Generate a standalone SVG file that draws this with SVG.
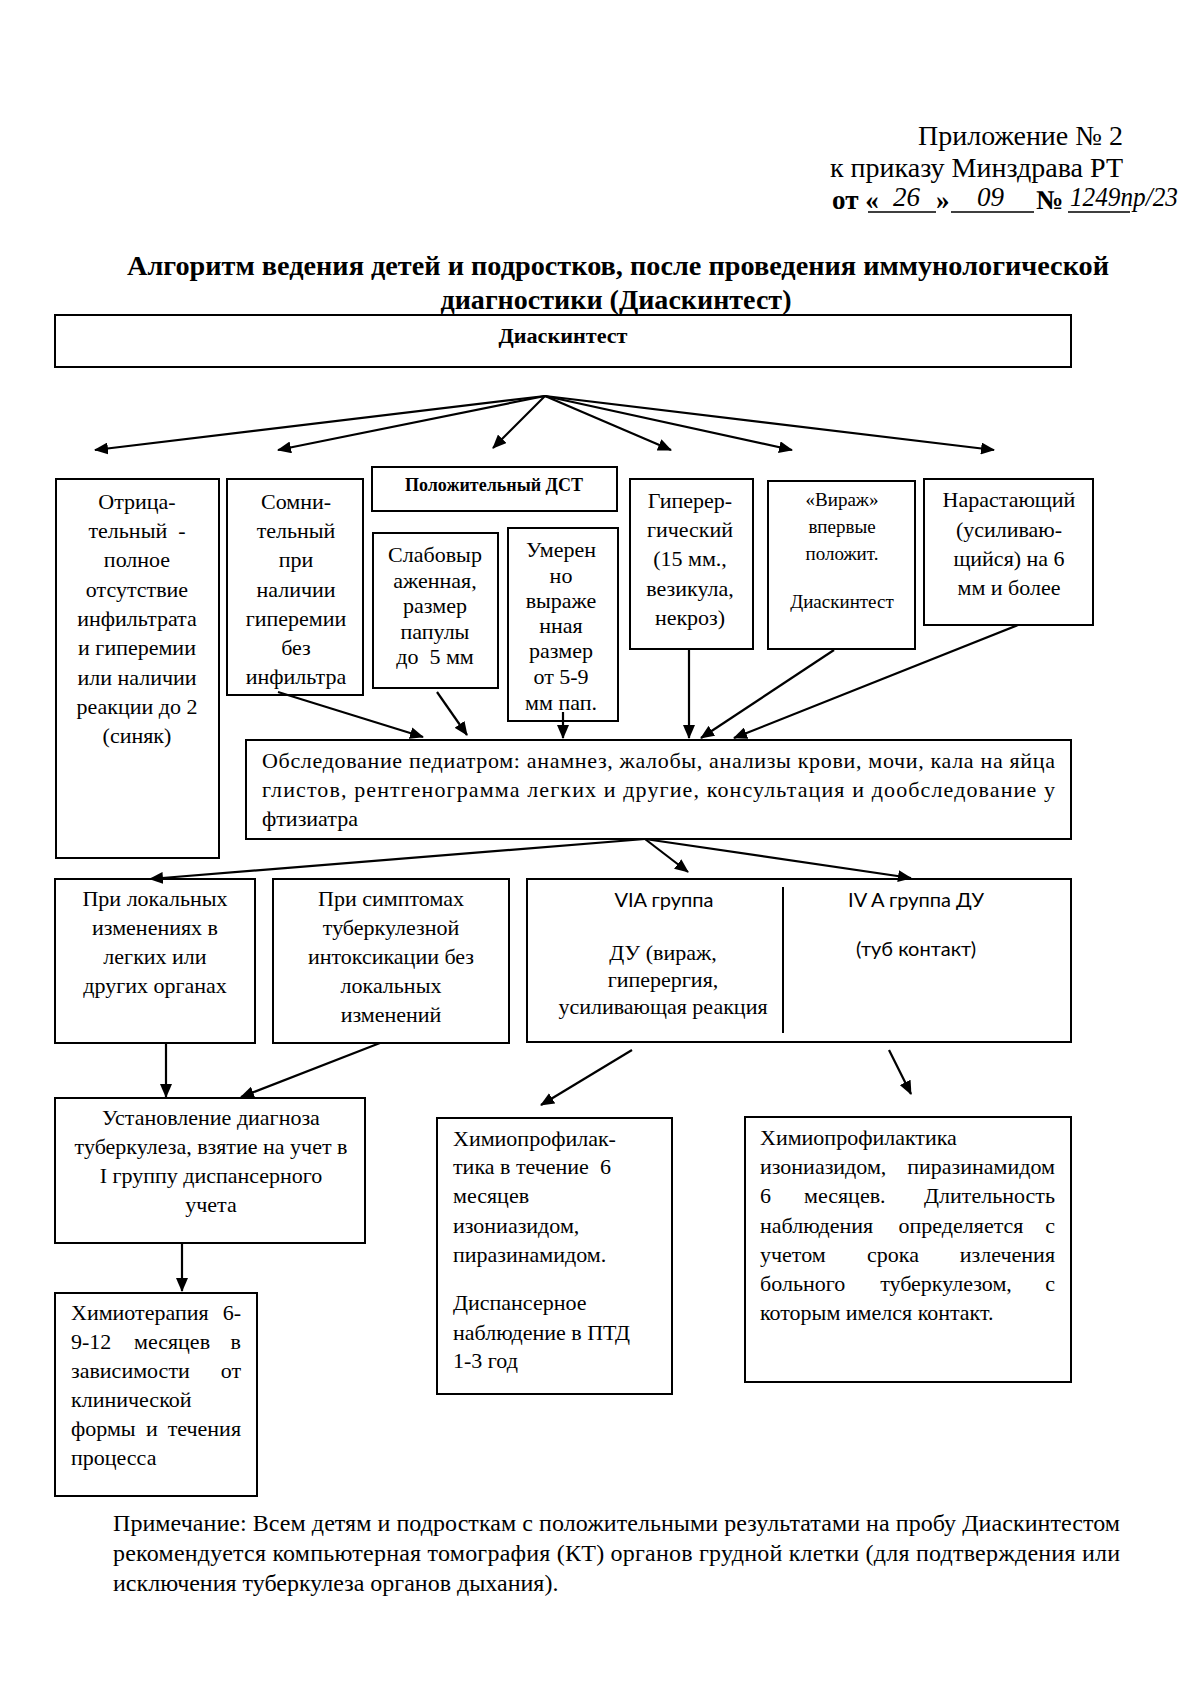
<svg xmlns="http://www.w3.org/2000/svg" width="1200" height="1704" viewBox="0 0 1200 1704">
<defs>
<marker id="ah" markerUnits="userSpaceOnUse" markerWidth="14" markerHeight="12" refX="13" refY="6" orient="auto">
<path d="M0,0 L14,6 L0,12 z" fill="#000"/>
</marker>
<style>
.box{fill:#fff;stroke:#000;stroke-width:2}
.ln{fill:none;stroke:#000;stroke-width:2.2;marker-end:url(#ah)}
.t{font-family:"Liberation Serif","Times New Roman",serif;font-size:22px;fill:#000}
.s{font-family:Lato,"Liberation Sans",sans-serif;font-size:20px;fill:#000}
.c{text-anchor:middle}
.e{text-anchor:end}
.b{font-weight:bold}
.hw{font-family:"Liberation Serif",serif;font-style:italic;font-size:27px;fill:#000}
</style>
</defs>
<rect width="1200" height="1704" fill="#fff"/>

<g id="header">
<text class="t e" x="1123" y="145" style="font-size:28px">Приложение № 2</text>
<text class="t e" x="1123" y="177" style="font-size:28px">к приказу Минздрава РТ</text>
<text class="t b" x="832" y="209" style="font-size:27px">от «</text>
<text class="hw" x="893" y="206">26</text>
<text class="t b" x="936" y="209" style="font-size:27px">»</text>
<text class="hw" x="977" y="206">09</text>
<text class="t b" x="1036" y="209" style="font-size:27px">№</text>
<text class="hw" x="1070" y="206" textLength="108" lengthAdjust="spacingAndGlyphs">1249пр/23</text>
<path d="M868,212 H936 M951,212 H1034 M1068,212 H1130" stroke="#000" stroke-width="1.5"/>
</g>

<g id="title">
<text class="t b c" x="618" y="275" style="font-size:28px" textLength="982" lengthAdjust="spacingAndGlyphs">Алгоритм ведения детей и подростков, после проведения иммунологической</text>
<text class="t b c" x="616" y="309" style="font-size:28px" textLength="351" lengthAdjust="spacingAndGlyphs">диагностики (Диаскинтест)</text>
</g>

<g id="n-diaskintest">
<rect class="box" x="55" y="315" width="1016" height="52"/>
<text class="t b c" x="563" y="343" style="font-size:20px" textLength="129" lengthAdjust="spacingAndGlyphs">Диаскинтест</text>
</g>

<g id="n-negative">
<rect class="box" x="56" y="479" width="163" height="379"/>
<text class="t c" x="137" y="509">Отрица-</text>
<text class="t c" x="137" y="538" xml:space="preserve">тельный  -</text>
<text class="t c" x="137" y="567">полное</text>
<text class="t c" x="137" y="597">отсутствие</text>
<text class="t c" x="137" y="626">инфильтрата</text>
<text class="t c" x="137" y="655">и гиперемии</text>
<text class="t c" x="137" y="685">или наличии</text>
<text class="t c" x="137" y="714">реакции до 2</text>
<text class="t c" x="137" y="743">(синяк)</text>
</g>

<g id="n-doubtful">
<rect class="box" x="227" y="479" width="136" height="216"/>
<text class="t c" x="296" y="509">Сомни-</text>
<text class="t c" x="296" y="538">тельный</text>
<text class="t c" x="296" y="567">при</text>
<text class="t c" x="296" y="597">наличии</text>
<text class="t c" x="296" y="626">гиперемии</text>
<text class="t c" x="296" y="655">без</text>
<text class="t c" x="296" y="684">инфильтра</text>
</g>

<g id="n-positive">
<rect class="box" x="372" y="467" width="245" height="44"/>
<text class="t b c" x="494" y="491" style="font-size:18px">Положительный ДСТ</text>
</g>

<g id="n-weak">
<rect class="box" x="373" y="533" width="125" height="155"/>
<text class="t c" x="435" y="562">Слабовыр</text>
<text class="t c" x="435" y="588">аженная,</text>
<text class="t c" x="435" y="613">размер</text>
<text class="t c" x="435" y="639">папулы</text>
<text class="t c" x="435" y="664" xml:space="preserve">до  5 мм</text>
</g>

<g id="n-moderate">
<rect class="box" x="508" y="528" width="110" height="193"/>
<text class="t c" x="561" y="557">Умерен</text>
<text class="t c" x="561" y="583">но</text>
<text class="t c" x="561" y="608">выраже</text>
<text class="t c" x="561" y="633">нная</text>
<text class="t c" x="561" y="658">размер</text>
<text class="t c" x="561" y="684">от 5-9</text>
<text class="t c" x="561" y="710">мм пап.</text>
</g>

<g id="n-hyperergic">
<rect class="box" x="630" y="479" width="123" height="170"/>
<text class="t c" x="690" y="508">Гиперер-</text>
<text class="t c" x="690" y="537">гический</text>
<text class="t c" x="690" y="566">(15 мм.,</text>
<text class="t c" x="690" y="596">везикула,</text>
<text class="t c" x="690" y="625">некроз)</text>
</g>

<g id="n-virage">
<rect class="box" x="768" y="481" width="147" height="168"/>
<text class="t c" x="842" y="506" style="font-size:19px">«Вираж»</text>
<text class="t c" x="842" y="533" style="font-size:19px">впервые</text>
<text class="t c" x="842" y="560" style="font-size:19px">положит.</text>
<text class="t c" x="842" y="608" style="font-size:19px">Диаскинтест</text>
</g>

<g id="n-increasing">
<rect class="box" x="924" y="479" width="169" height="146"/>
<text class="t c" x="1009" y="507">Нарастающий</text>
<text class="t c" x="1009" y="537">(усиливаю-</text>
<text class="t c" x="1009" y="566">щийся) на 6</text>
<text class="t c" x="1009" y="595">мм и более</text>
</g>

<g id="n-exam">
<rect class="box" x="246" y="740" width="825" height="99"/>
<text class="t" x="262" y="768" textLength="793" lengthAdjust="spacing">Обследование педиатром: анамнез, жалобы, анализы крови, мочи, кала на яйца</text>
<text class="t" x="262" y="797" textLength="793" lengthAdjust="spacing">глистов, рентгенограмма легких и другие, консультация и дообследование у</text>
<text class="t" x="262" y="826">фтизиатра</text>
</g>

<g id="n-local">
<rect class="box" x="55" y="879" width="200" height="164"/>
<text class="t c" x="155" y="906">При локальных</text>
<text class="t c" x="155" y="935">изменениях в</text>
<text class="t c" x="155" y="964">легких или</text>
<text class="t c" x="155" y="993">других органах</text>
</g>

<g id="n-symptoms">
<rect class="box" x="273" y="879" width="236" height="164"/>
<text class="t c" x="391" y="906">При симптомах</text>
<text class="t c" x="391" y="935">туберкулезной</text>
<text class="t c" x="391" y="964">интоксикации без</text>
<text class="t c" x="391" y="993">локальных</text>
<text class="t c" x="391" y="1022">изменений</text>
</g>

<g id="n-groups">
<rect class="box" x="527" y="879" width="544" height="163"/>
<line x1="783" y1="887" x2="783" y2="1033" stroke="#000" stroke-width="2"/>
<text class="s c" x="664" y="907">VIA группа</text>
<text class="t c" x="663" y="960">ДУ (вираж,</text>
<text class="t c" x="663" y="987">гиперергия,</text>
<text class="t c" x="663" y="1014">усиливающая реакция</text>
<text class="s c" x="916" y="907">IV A группа ДУ</text>
<text class="s c" x="916" y="956">(туб контакт)</text>
</g>

<g id="n-diagnosis">
<rect class="box" x="55" y="1098" width="310" height="145"/>
<text class="t c" x="211" y="1125">Установление диагноза</text>
<text class="t c" x="211" y="1154">туберкулеза, взятие на учет в</text>
<text class="t c" x="211" y="1183">I группу диспансерного</text>
<text class="t c" x="211" y="1212">учета</text>
</g>

<g id="n-chemo">
<rect class="box" x="55" y="1293" width="202" height="203"/>
<text class="t" x="71" y="1320">Химиотерапия</text><text class="t e" x="241" y="1320">6-</text>
<text class="t" x="71" y="1349">9-12</text><text class="t c" x="172" y="1349">месяцев</text><text class="t e" x="241" y="1349">в</text>
<text class="t" x="71" y="1378">зависимости</text><text class="t e" x="241" y="1378">от</text>
<text class="t" x="71" y="1407">клинической</text>
<text class="t" x="71" y="1436">формы</text><text class="t c" x="152" y="1436">и</text><text class="t e" x="241" y="1436">течения</text>
<text class="t" x="71" y="1465">процесса</text>
</g>

<g id="n-prophylaxis6">
<rect class="box" x="437" y="1118" width="235" height="276"/>
<text class="t" x="453" y="1146">Химиопрофилак-</text>
<text class="t" x="453" y="1174">тика в течение</text><text class="t" x="600" y="1174">6</text>
<text class="t" x="453" y="1203">месяцев</text>
<text class="t" x="453" y="1233">изониазидом,</text>
<text class="t" x="453" y="1262">пиразинамидом.</text>
<text class="t" x="453" y="1310">Диспансерное</text>
<text class="t" x="453" y="1340">наблюдение в ПТД</text>
<text class="t" x="453" y="1368">1-3 год</text>
</g>

<g id="n-prophylaxis-contact">
<rect class="box" x="745" y="1117" width="326" height="265"/>
<text class="t" x="760" y="1145">Химиопрофилактика</text>
<text class="t" x="760" y="1174">изониазидом,</text><text class="t e" x="1055" y="1174">пиразинамидом</text>
<text class="t" x="760" y="1203">6</text><text class="t" x="804" y="1203">месяцев.</text><text class="t e" x="1055" y="1203">Длительность</text>
<text class="t" x="760" y="1233">наблюдения</text><text class="t c" x="961" y="1233">определяется</text><text class="t e" x="1055" y="1233">с</text>
<text class="t" x="760" y="1262">учетом</text><text class="t c" x="893" y="1262">срока</text><text class="t e" x="1055" y="1262">излечения</text>
<text class="t" x="760" y="1291">больного</text><text class="t c" x="946" y="1291">туберкулезом,</text><text class="t e" x="1055" y="1291">с</text>
<text class="t" x="760" y="1320">которым имелся контакт.</text>
</g>

<g id="connectors">
<line class="ln" x1="545" y1="396" x2="95" y2="450"/>
<line class="ln" x1="545" y1="396" x2="278" y2="450"/>
<line class="ln" x1="545" y1="396" x2="493" y2="448"/>
<line class="ln" x1="545" y1="396" x2="671" y2="450"/>
<line class="ln" x1="545" y1="396" x2="792" y2="450"/>
<line class="ln" x1="545" y1="396" x2="994" y2="450"/>
<line class="ln" x1="278" y1="692" x2="423" y2="737"/>
<line class="ln" x1="437" y1="692" x2="467" y2="735"/>
<line class="ln" x1="563" y1="712" x2="563" y2="738"/>
<line class="ln" x1="689" y1="649" x2="689" y2="738"/>
<line class="ln" x1="834" y1="650" x2="701" y2="738"/>
<line class="ln" x1="1018" y1="625" x2="734" y2="738"/>
<line class="ln" x1="645" y1="839" x2="150" y2="879"/>
<line class="ln" x1="645" y1="839" x2="688" y2="872"/>
<line class="ln" x1="645" y1="839" x2="911" y2="878"/>
<line class="ln" x1="166" y1="1043" x2="166" y2="1097"/>
<line class="ln" x1="380" y1="1043" x2="241" y2="1097"/>
<line class="ln" x1="632" y1="1050" x2="541" y2="1105"/>
<line class="ln" x1="889" y1="1050" x2="911" y2="1094"/>
<line class="ln" x1="182" y1="1243" x2="182" y2="1291"/>
</g>

<g id="note">
<text class="t" x="113" y="1531" style="font-size:24px" textLength="1007" lengthAdjust="spacing">Примечание: Всем детям и подросткам с положительными результатами на пробу Диаскинтестом</text>
<text class="t" x="113" y="1561" style="font-size:24px" textLength="1007" lengthAdjust="spacing">рекомендуется компьютерная томография (КТ) органов грудной клетки (для подтверждения или</text>
<text class="t" x="113" y="1591" style="font-size:24px">исключения туберкулеза органов дыхания).</text>
</g>
</svg>
